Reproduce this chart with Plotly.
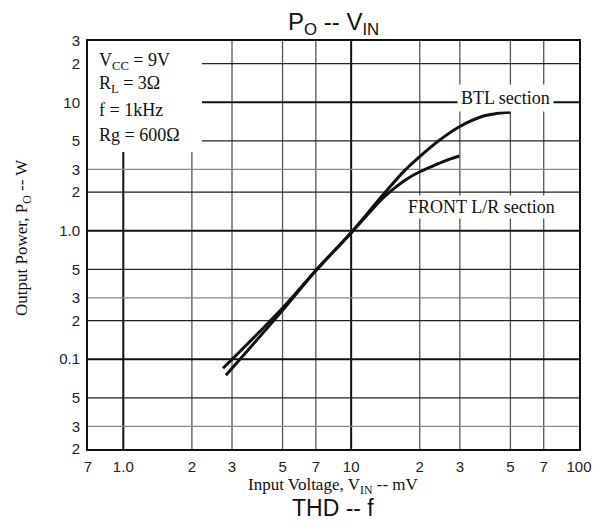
import plotly.graph_objects as go
import math

# ---- data ----
btl_vin = [2.82, 5, 7, 10, 13.96, 17.2, 19.8, 23.8, 29.6, 38.4, 44, 49.9]
btl_po = [0.075, 0.24, 0.49, 0.97, 1.95, 2.95, 3.72, 4.9, 6.4, 7.85, 8.2, 8.35]

front_vin = [2.74, 5, 7, 10, 12, 13.7, 15.5, 17.5, 20, 23.4, 26.5, 29.8]
front_po = [0.085, 0.25, 0.49, 0.96, 1.38, 1.78, 2.15, 2.52, 2.88, 3.25, 3.56, 3.82]

x_tickvals = [0.7, 1, 2, 3, 5, 7, 10, 20, 30, 50, 70, 100]
x_ticktext = ["7", "1.0", "2", "3", "5", "7", "10", "2", "3", "5", "7", "100"]
y_tickvals = [0.02, 0.03, 0.05, 0.1, 0.2, 0.3, 0.5, 1, 2, 3, 5, 10, 20, 30]
y_ticktext = ["2", "3", "5", "0.1", "2", "3", "5", "1.0", "2", "3", "5", "10", "2", "3"]

x_range = [0.7, 100]
y_range = [0.02, 30]

conditions = ["V<sub>CC</sub> = 9V", "R<sub>L</sub> = 3Ω", "f = 1kHz", "Rg = 600Ω"]

# page body has an 8px margin; work in page pixels and convert
OFF = 8
W, H = 602 - 2 * OFF, 525 - 2 * OFF
PL, PR, PT, PB = 88, 579, 41, 449  # plot area in page pixels
L, R, T, B = PL - OFF, W - (PR - OFF), PT - OFF, H - (PB - OFF)
pw, ph = PR - PL, PB - PT


def px(xpix):
    return (xpix - PL) / pw


def py(ypix):
    return (PB - ypix) / ph


fig = go.Figure()
line_style = dict(color="#111111", width=3, shape="spline", smoothing=1.0)
fig.add_trace(go.Scatter(x=btl_vin, y=btl_po, mode="lines", line=line_style, name="BTL section"))
fig.add_trace(go.Scatter(x=front_vin, y=front_po, mode="lines", line=line_style, name="FRONT L/R section"))

shapes = []
# grid lines
for v in x_tickvals[1:-1]:
    dec = abs(math.log10(v) - round(math.log10(v))) < 1e-9
    shapes.append(dict(type="line", xref="x", yref="paper", x0=v, x1=v, y0=0, y1=1, layer="below",
                       line=dict(color="#111111" if dec else "#555555", width=2 if dec else 1.3)))
for v in y_tickvals[1:-1]:
    lg = math.log10(v)
    dec = abs(lg - round(lg)) < 1e-9
    three = abs(v / 10 ** math.floor(lg + 1e-9) - 3) < 1e-6
    col = "#111111" if dec else ("#8a8a8a" if three else "#222222")
    shapes.append(dict(type="line", xref="paper", yref="y", x0=0, x1=1, y0=v, y1=v, layer="below",
                       line=dict(color=col, width=2 if dec else 1.3)))
# white box behind conditions
shapes.append(dict(type="rect", xref="paper", yref="paper", x0=0, x1=px(202), y0=py(152), y1=1,
                   fillcolor="white", line=dict(width=0), layer="below"))

annotations = []
cond_y = [61, 85, 110, 135]
for t, yy in zip(conditions, cond_y):
    annotations.append(dict(text=t, xref="paper", yref="paper", x=px(97), y=py(yy), xanchor="left",
                            yanchor="middle", showarrow=False,
                            font=dict(family="Liberation Serif", size=18, color="#111111")))
annotations.append(dict(text="BTL section", xref="paper", yref="paper", x=px(505), y=py(98),
                        xanchor="center", yanchor="middle", showarrow=False, bgcolor="white",
                        borderpad=3,
                        font=dict(family="Liberation Serif", size=18, color="#111111")))
annotations.append(dict(text="FRONT L/R section", xref="paper", yref="paper", x=px(481), y=py(207),
                        xanchor="center", yanchor="middle", showarrow=False, bgcolor="white",
                        borderpad=1,
                        font=dict(family="Liberation Serif", size=18, color="#111111")))
annotations.append(dict(text="P<sub>O</sub> -- V<sub>IN</sub>", xref="paper", yref="paper",
                        x=px(333), y=py(24), xanchor="center", yanchor="middle", showarrow=False,
                        font=dict(family="Liberation Sans", size=24, color="#111111")))
annotations.append(dict(text="Input Voltage, V<sub>IN</sub> -- mV", xref="paper", yref="paper",
                        x=px(333), y=py(486), xanchor="center", yanchor="middle", showarrow=False,
                        font=dict(family="Liberation Serif", size=17, color="#111111")))
annotations.append(dict(text="Output Power, P<sub>O</sub> -- W", xref="paper", yref="paper",
                        x=px(23), y=py(238), xanchor="center", yanchor="middle", showarrow=False,
                        textangle=-90,
                        font=dict(family="Liberation Serif", size=17, color="#111111")))
annotations.append(dict(text="THD -- f", xref="paper", yref="paper",
                        x=px(333), y=py(508), xanchor="center", yanchor="middle", showarrow=False,
                        font=dict(family="Liberation Sans", size=23, color="#111111")))

axis_common = dict(showgrid=False, zeroline=False, showline=True, linecolor="#111111", linewidth=2,
                   mirror=True, ticks="", automargin=False,
                   tickfont=dict(family="Liberation Sans", size=15, color="#222222"))

fig.update_layout(
    width=W, height=H,
    margin=dict(l=L, r=R, t=T, b=B, autoexpand=False),
    paper_bgcolor="white", plot_bgcolor="white",
    showlegend=False,
    xaxis=dict(type="log", range=[math.log10(x_range[0]), math.log10(x_range[1])],
               tickmode="array", tickvals=x_tickvals, ticktext=x_ticktext, ticklabelstandoff=3,
               **axis_common),
    yaxis=dict(type="log", range=[math.log10(y_range[0]), math.log10(y_range[1])],
               tickmode="array", tickvals=y_tickvals, ticktext=y_ticktext, ticklabelstandoff=3,
               **axis_common),
    shapes=shapes,
    annotations=annotations,
)

fig.write_html("out.html")
